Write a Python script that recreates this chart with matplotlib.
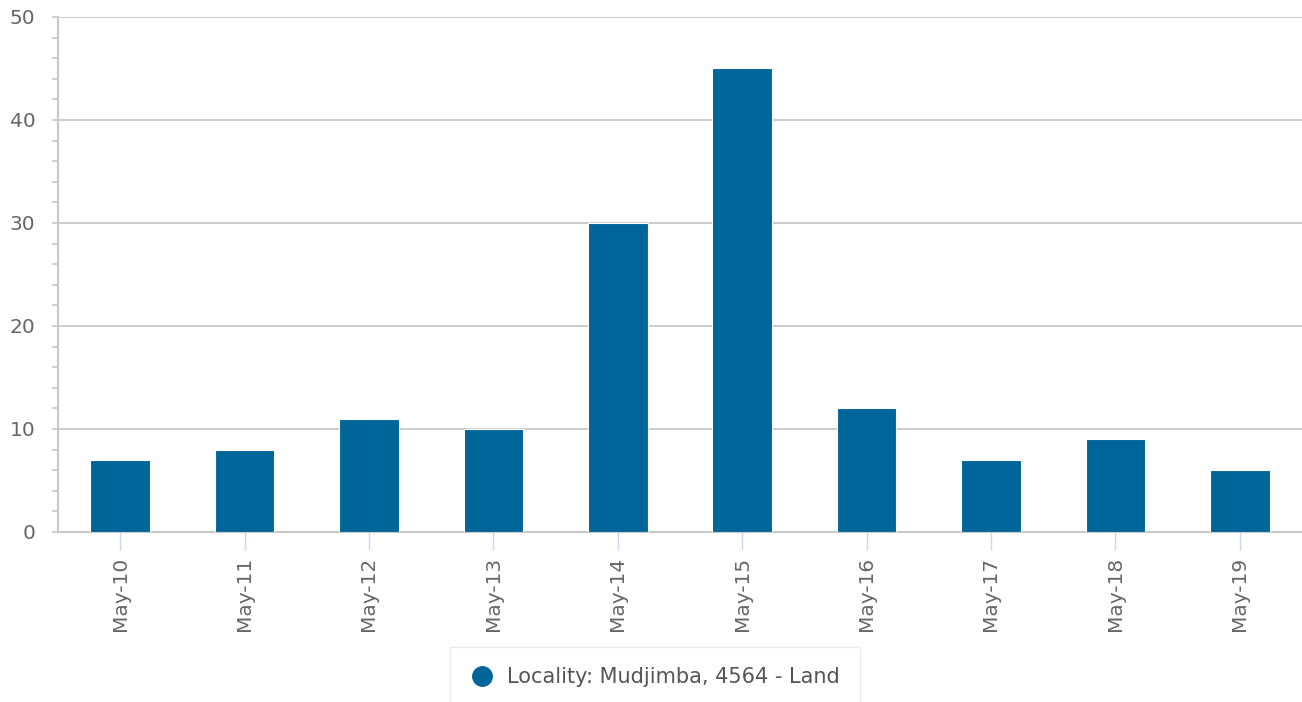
import matplotlib
matplotlib.use("Agg")
from matplotlib import pyplot as plt
from matplotlib.lines import Line2D
import numpy as np

dates = ["May-10", "May-11", "May-12", "May-13", "May-14",
         "May-15", "May-16", "May-17", "May-18", "May-19"]
counts = [7, 8, 11, 10, 30, 45, 12, 7, 9, 6]
series_name = "Locality: Mudjimba, 4564 - Land"

bar_color = "#006699"
text_color = "#666666"
grid_color = "#c8c8c8"

plt.rcParams["font.family"] = ["DejaVu Sans"]

fig = plt.figure(figsize=(13.02, 7.02), dpi=100)
ax = fig.add_axes([0.0445, 0.2422, 0.9555, 0.7336])

x = np.arange(len(dates))
ax.bar(x, counts, width=0.48, color=bar_color, edgecolor="white", linewidth=0.8, zorder=3)

ax.set_xlim(-0.5, len(dates) - 0.5)
ax.set_ylim(0, 50)
ax.set_yticks([0, 10, 20, 30, 40, 50])
ax.set_yticks(np.arange(0, 51, 2), minor=True)
ax.set_xticks(x)
ax.set_xticklabels(dates, rotation=90)

ax.grid(axis="y", color=grid_color, linewidth=1.3, zorder=0)
for s in ["top", "right"]:
    ax.spines[s].set_visible(False)
ax.spines["left"].set_color(grid_color)
ax.spines["left"].set_linewidth(1.5)
ax.spines["bottom"].set_color(grid_color)
ax.spines["bottom"].set_linewidth(1.5)

ax.tick_params(axis="y", which="major", length=4.3, width=1.2, color=grid_color,
               labelsize=14.5, labelcolor=text_color, pad=12)
ax.tick_params(axis="y", which="minor", length=4.3, width=1.2, color=grid_color)
ax.tick_params(axis="x", which="major", length=13, width=1, color="#ccd6eb",
               labelsize=14.5, labelcolor=text_color, pad=5)

handle = Line2D([0], [0], marker="o", color="w", markerfacecolor=bar_color,
                markeredgecolor=bar_color, markersize=14, label=series_name)
leg = fig.legend(handles=[handle], loc="upper center",
                 bbox_to_anchor=(655 / 1302, 1 - 647 / 702),
                 fontsize=15, frameon=True, fancybox=False,
                 handletextpad=0.6, borderpad=0.95, handlelength=1.2,
                 borderaxespad=0, labelcolor="#555555")
leg.get_frame().set_edgecolor("#e6e6e6")
leg.get_frame().set_linewidth(1)

fig.savefig("out.png", dpi=100)
